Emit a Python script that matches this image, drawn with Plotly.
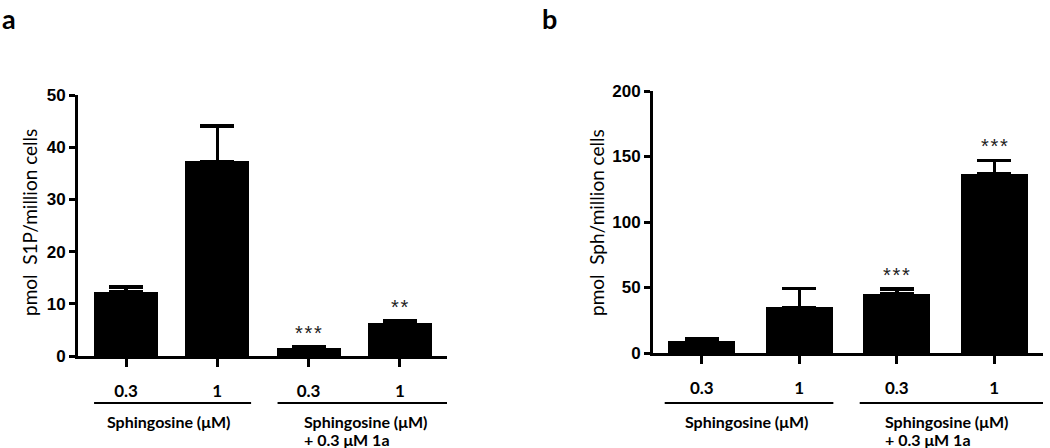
import plotly.graph_objects as go

W, H = 1050, 448

# ---- data ----
categories = ["0.3", "1", "0.3", "1"]
s1p_values = [12.3, 37.3, 1.5, 6.4]
s1p_errors = [0.9, 6.8, 0.2, 0.3]
s1p_stars = ["", "", "*\u200a*\u200a*", "*\u200a*"]

sph_values = [9.4, 34.9, 45.0, 137.0]
sph_errors = [1.3, 14.5, 4.0, 10.0]
sph_stars = ["", "", "*\u200a*\u200a*", "*\u200a*\u200a*"]

group_labels = ["Sphingosine (\u03bcM)", "Sphingosine (\u03bcM)", "+ 0.3 \u03bcM 1a"]
ytitle_a = "pmol  S1P/million cells"
ytitle_b = "pmol  Sph/million cells"

xpos = list(range(len(categories)))

def py(p):
    return 1 - p / H

LABEL_FONT = "Lato"
NUM_FONT = "Liberation Sans"

fig = go.Figure()

fig.add_trace(go.Bar(
    x=xpos, y=s1p_values, width=0.70, marker=dict(color="black", line=dict(width=0)),
    error_y=dict(type="data", array=s1p_errors, arrayminus=[0]*4, symmetric=False,
                 color="black", thickness=3.5, width=17),
    xaxis="x", yaxis="y", showlegend=False, hoverinfo="skip"))

fig.add_trace(go.Bar(
    x=xpos, y=sph_values, width=0.69, marker=dict(color="black", line=dict(width=0)),
    error_y=dict(type="data", array=sph_errors, arrayminus=[0]*4, symmetric=False,
                 color="black", thickness=3.5, width=17),
    xaxis="x2", yaxis="y2", showlegend=False, hoverinfo="skip"))

xcommon = dict(showline=True, linecolor="black", linewidth=3, ticks="outside",
               ticklen=8, tickwidth=3, tickcolor="black", showgrid=False, zeroline=False,
               tickmode="array", tickvals=xpos, ticktext=categories,
               tickfont=dict(family=LABEL_FONT, size=17, color="black", weight="bold"),
               ticklabelstandoff=10, fixedrange=True, automargin=False)
ycommon = dict(showline=True, linecolor="black", linewidth=3, ticks="outside",
               ticklen=6, tickwidth=3, tickcolor="black", showgrid=False, zeroline=False,
               tickfont=dict(family=NUM_FONT, size=17, color="black", weight="bold"),
               fixedrange=True, automargin=False)

fig.update_layout(
    width=W, height=H, autosize=False, margin=dict(l=0, r=0, t=0, b=0, pad=0),
    plot_bgcolor="white", paper_bgcolor="white", bargap=0,
    xaxis=dict(domain=[78 / W, 447 / W], range=[-0.526, 3.516], anchor="y", **xcommon),
    yaxis=dict(domain=[py(356), py(95)], range=[0, 50], dtick=10, anchor="x", **ycommon),
    xaxis2=dict(domain=[653 / W, 1043 / W], range=[-0.50, 3.50], anchor="y2", **xcommon),
    yaxis2=dict(domain=[py(353), py(91)], range=[0, 200], dtick=50, anchor="x2", **ycommon),
)

ann = []
# stars
for xr, yr, vals, errs, stars in [("x", "y", s1p_values, s1p_errors, s1p_stars),
                                    ("x2", "y2", sph_values, sph_errors, sph_stars)]:
    for i, s in enumerate(stars):
        if s:
            ann.append(dict(x=xpos[i], y=vals[i] + errs[i], xref=xr, yref=yr, text=s,
                            showarrow=False, yanchor="bottom", yshift=1,
                            font=dict(family=NUM_FONT, size=20, color="#222")))

# group lines and labels
shapes = []
for xr, seg1, seg2, c1, l2 in [("x", (-0.35, 1.37), (1.66, 3.52), 0.46, 1.93),
                               ("x2", (-0.38, 1.35), (1.62, 3.50), 0.46, 1.86)]:
    for a, b in (seg1, seg2):
        shapes.append(dict(type="line", xref=xr, yref="paper", x0=a, x1=b,
                           y0=py(403), y1=py(403), line=dict(color="black", width=2)))
    ann.append(dict(x=c1, y=py(421), xref=xr, yref="paper", text=group_labels[0],
                    showarrow=False, xanchor="center", yanchor="middle",
                    font=dict(family=LABEL_FONT, size=16, color="black", weight="bold")))
    ann.append(dict(x=l2, y=py(421), xref=xr, yref="paper", text=group_labels[1],
                    showarrow=False, xanchor="left", yanchor="middle",
                    font=dict(family=LABEL_FONT, size=16, color="black", weight="bold")))
    ann.append(dict(x=l2, y=py(439), xref=xr, yref="paper", text=group_labels[2],
                    showarrow=False, xanchor="left", yanchor="middle",
                    font=dict(family=LABEL_FONT, size=16, color="black", weight="bold")))

# y titles
ann.append(dict(x=29 / W, y=py(223), xref="paper", yref="paper", text=ytitle_a,
                textangle=-90, showarrow=False, xanchor="center", yanchor="middle",
                font=dict(family=LABEL_FONT, size=19, color="black")))
ann.append(dict(x=596 / W, y=py(223), xref="paper", yref="paper", text=ytitle_b,
                textangle=-90, showarrow=False, xanchor="center", yanchor="middle",
                font=dict(family=LABEL_FONT, size=19, color="black")))

# panel letters
ann.append(dict(x=0, y=1, xref="paper", yref="paper", text="a", showarrow=False,
                xanchor="left", yanchor="top",
                font=dict(family=LABEL_FONT, size=27, color="black", weight="bold")))
ann.append(dict(x=540 / W, y=1, xref="paper", yref="paper", text="b", showarrow=False,
                xanchor="left", yanchor="top",
                font=dict(family=LABEL_FONT, size=27, color="black", weight="bold")))

fig.update_layout(annotations=ann, shapes=shapes)
fig.write_html("out.html", config={"displayModeBar": False},
               post_script="document.body.style.margin='0px';document.body.style.overflow='hidden';")
